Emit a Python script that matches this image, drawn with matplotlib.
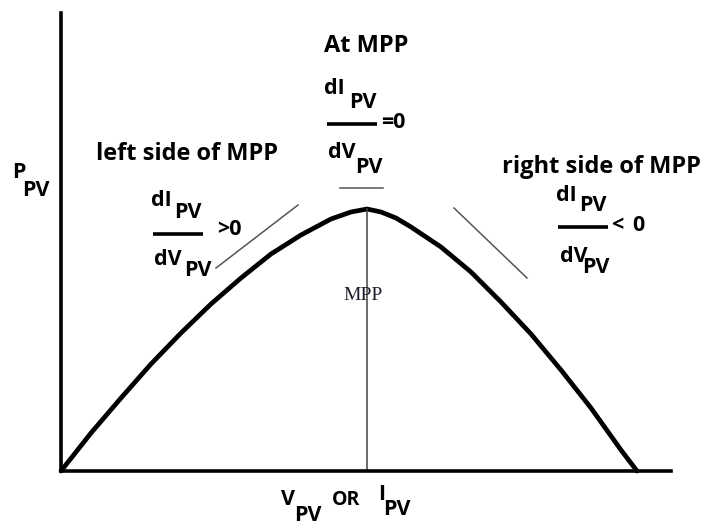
import matplotlib.pyplot as plt

# P-V curve (x: voltage/current, y: power, arbitrary units)
pv_x = [0, 30, 60, 90, 120, 150, 180, 210, 240, 255, 270, 290, 306,
        320, 335, 350, 380, 410, 440, 470, 500, 530, 560, 576]
pv_p = [0, 38, 73, 107, 138, 167, 193, 217, 236, 244, 252, 259, 262,
        259, 253, 244, 224, 199, 169, 137, 101, 63, 21, 0]

# slope hint segments (x0, x1), (y0, y1)
left_tangent_x = [155, 237]
left_tangent_y = [203, 266]
right_tangent_x = [393, 466]
right_tangent_y = [263, 193]
top_tangent_x = [279, 322]
top_tangent_y = [283, 283]

fig = plt.figure(figsize=(7.07, 5.29), dpi=100)
ax = fig.add_axes([61 / 707, 58 / 529, 610 / 707, 458 / 529])
ax.set_xlim(0, 610)
ax.set_ylim(0, 458)
for s in ['top', 'right']:
    ax.spines[s].set_visible(False)
for s in ['left', 'bottom']:
    ax.spines[s].set_linewidth(2.6)
    ax.spines[s].set_color('black')
ax.set_xticks([])
ax.set_yticks([])

ax.plot(pv_x, pv_p, color='black', lw=3.4, solid_capstyle='round',
        solid_joinstyle='round', clip_on=False)

# MPP vertical line
i_mpp = pv_p.index(max(pv_p))
ax.plot([pv_x[i_mpp], pv_x[i_mpp]], [0, pv_p[i_mpp]], color='#444444', lw=1.1)

ax.plot(left_tangent_x, left_tangent_y, color='#555555', lw=1.1)
ax.plot(right_tangent_x, right_tangent_y, color='#555555', lw=1.1)
ax.plot(top_tangent_x, top_tangent_y, color='#555555', lw=1.1)

fb = dict(family=['Open Sans', 'DejaVu Sans'], weight='bold', color='black',
          va='baseline', ha='left')


def txt(px, py, s, size):
    # place text by its pixel position in the picture (baseline, left)
    ax.text(px - 61, 471 - py, s, fontsize=size, clip_on=False, **fb)


def bar(px0, px1, py):
    ax.plot([px0 - 61, px1 - 61], [471 - py, 471 - py], color='black', lw=2.6,
            clip_on=False, solid_capstyle='butt')


fs = 15.5

# y label
txt(12, 178, 'P', fs)
txt(22, 196, 'PV', fs)

# x label
txt(281, 505, 'V', fs)
txt(294, 521, 'PV', fs)
txt(332, 505, 'OR', 14)
txt(378, 500, 'I', fs)
txt(383, 515, 'PV', fs)

# left side
txt(96, 160, 'left side of MPP', 17)
txt(151, 206, 'dI', fs)
txt(174, 218, 'PV', fs)
bar(153, 203, 233.5)
txt(217, 235, '>0', fs)
txt(154, 265, 'dV', fs)
txt(184, 276, 'PV', fs)

# at MPP
txt(324, 52, 'At MPP', 17)
txt(324, 94, 'dI', fs)
txt(349, 108, 'PV', fs)
bar(327, 377, 124)
txt(381, 128, '=0', fs)
txt(328, 158, 'dV', fs)
txt(355, 173, 'PV', fs)

# right side
txt(502, 173, 'right side of MPP', 17)
txt(556, 201, 'dI', fs)
txt(579, 211, 'PV', fs)
bar(558, 608, 227)
txt(611, 231, '<', fs)
txt(632, 231, '0', fs)
txt(560, 262, 'dV', fs)
txt(582, 273, 'PV', fs)

ax.text(343 - 61, 471 - 300, 'MPP', family='Liberation Serif', fontsize=14,
        color='#1c1c2a', va='baseline', ha='left')

fig.savefig('out.png', dpi=100)
